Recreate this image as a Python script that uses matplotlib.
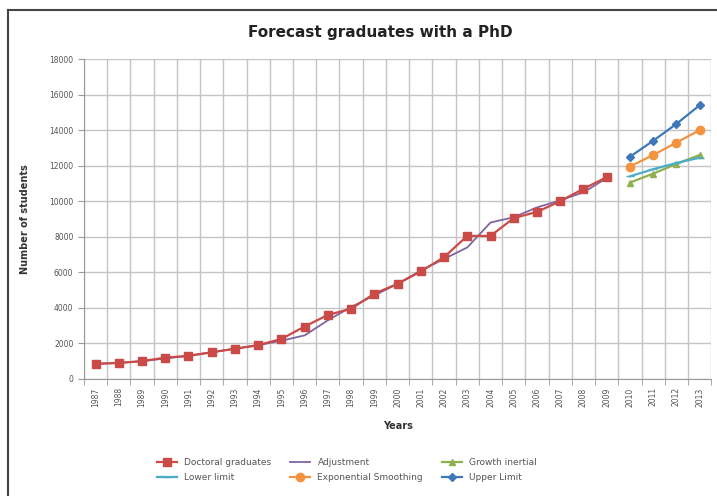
import matplotlib.pyplot as plt
from matplotlib.lines import Line2D
from matplotlib.ticker import FixedLocator
import numpy as np

# Data
years = [str(y) for y in range(1987, 2014)]
hist_years = years[:23]      # 1987-2009
fc_years = years[23:]        # 2010-2013

doctoral = [850, 900, 1000, 1200, 1300, 1500, 1700, 1900, 2250, 2950, 3600,
            3950, 4800, 5350, 6050, 6850, 8050, 8050, 9050, 9400, 10000,
            10700, 11350]
adjustment = [850, 900, 1000, 1150, 1300, 1500, 1700, 1900, 2150, 2450, 3300,
              4050, 4700, 5350, 6100, 6750, 7400, 8800, 9100, 9650, 10050,
              10500, 11300]
growth_inertial = [11050, 11550, 12100, 12600]
lower_limit = [11400, 11800, 12150, 12450]
exp_smoothing = [11950, 12600, 13300, 14000]
upper_limit = [12500, 13400, 14350, 15400]

fig = plt.figure(figsize=(7.17, 4.96), dpi=100)
ax = fig.add_axes([0.117, 0.236, 0.875, 0.645])

x_all = np.arange(len(years))
x_hist = x_all[:len(hist_years)]
x_fc = x_all[len(hist_years):]

l_doc, = ax.plot(x_hist, doctoral, color='#C94A47', marker='s', markersize=6,
                 lw=1.6, label='Doctoral graduates', zorder=4)
l_adj, = ax.plot(x_hist, adjustment, color='#8064A2', lw=1.3,
                 label='Adjustment', zorder=3)
l_gro, = ax.plot(x_fc, growth_inertial, color='#8FB04E', marker='^',
                 markersize=5, lw=1.6, label='Growth inertial', zorder=3)
l_low, = ax.plot(x_fc, lower_limit, color='#4BACC6', marker='_',
                 markersize=6, lw=1.6, label='Lower limit', zorder=3)
l_exp, = ax.plot(x_fc, exp_smoothing, color='#F39340', marker='o',
                 markersize=6, lw=1.6, label='Exponential Smoothing', zorder=3)
l_up, = ax.plot(x_fc, upper_limit, color='#3F78B8', marker='D',
                markersize=4, lw=1.6, label='Upper Limit', zorder=3)

ax.set_xlim(-0.5, len(years) - 0.5)
ax.set_ylim(0, 18000)
ax.set_yticks(range(0, 18001, 2000))
ax.set_xticks(x_all)
ax.set_xticklabels(years, rotation=90, fontsize=5.5, color='#555555')
ax.xaxis.set_minor_locator(FixedLocator(np.arange(-0.5, len(years), 1)))
ax.tick_params(axis='x', which='major', length=0, pad=6)
ax.tick_params(axis='x', which='minor', length=4, color='#999999')
ax.tick_params(axis='y', labelsize=5.5, labelcolor='#555555', length=4,
               color='#999999')

ax.grid(axis='y', which='major', color='#c4c4c4', lw=1)
ax.grid(axis='x', which='minor', color='#c4c4c4', lw=1)
ax.set_axisbelow(True)
for side in ['top', 'right']:
    ax.spines[side].set_visible(False)
for side in ['left', 'bottom']:
    ax.spines[side].set_color('#999999')

ax.set_xlabel('Years', fontsize=7, fontweight='bold', color='#333333',
              labelpad=10)
ax.set_ylabel('Number of students', fontsize=7, fontweight='bold',
              color='#333333', labelpad=14)
fig.text(0.53, 0.935, 'Forecast graduates with a PhD', ha='center',
         va='center', fontsize=11, fontweight='bold', color='#222222')

handles = [l_doc, l_low, l_adj, l_exp, l_gro, l_up]
fig.legend(handles=handles, labels=[h.get_label() for h in handles],
           ncol=3, loc='center left', bbox_to_anchor=(0.213, 0.052),
           frameon=False, fontsize=6.5, handlelength=2.2, columnspacing=2.1,
           labelspacing=0.6, labelcolor='#555555', borderpad=0)

# outer frame (top and left edges)
fig.add_artist(Line2D([8 / 717, 1], [1 - 10 / 496, 1 - 10 / 496],
                      color='#444444', lw=1.5))
fig.add_artist(Line2D([8 / 717, 8 / 717], [0, 1 - 10 / 496],
                      color='#444444', lw=1.5))

fig.savefig('out.png', dpi=100, facecolor='white')
